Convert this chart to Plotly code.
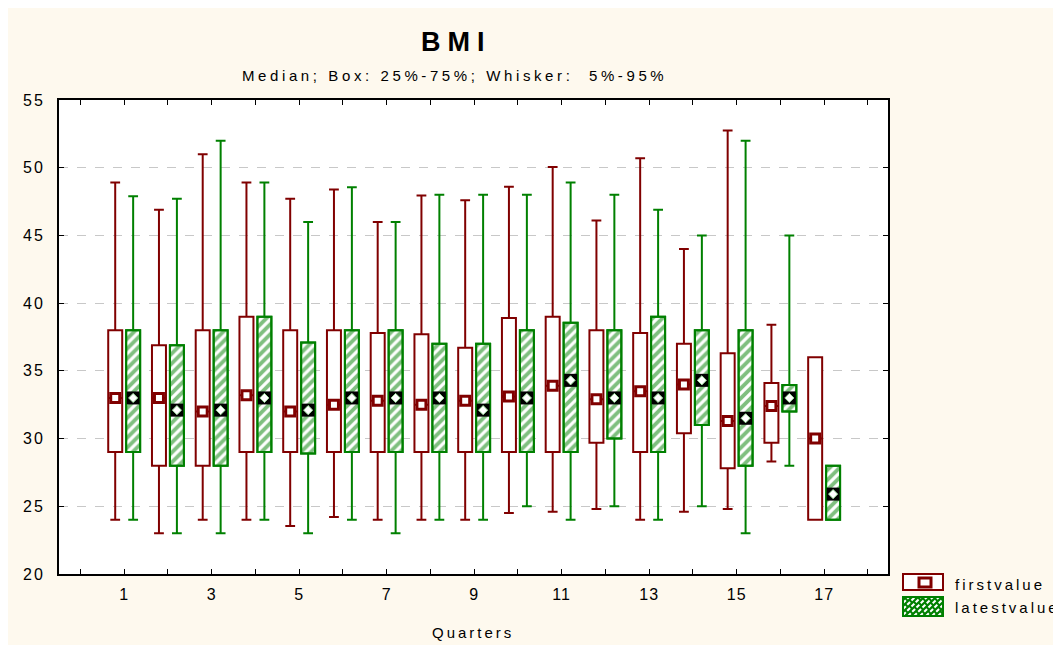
import plotly.graph_objects as go

quarters = list(range(1, 18))

# firstvalue statistics
first_p5 = [24, 23, 24, 24, 23.55, 24.2, 24, 24, 24, 24.5, 24.6, 24.8, 24, 24.6, 24.8, 28.3, 24]
first_q1 = [29, 28, 28, 29, 29, 29, 29, 29, 29, 29, 29, 29.7, 29, 30.4, 27.8, 29.7, 24]
first_med = [33, 33, 32, 33.2, 32, 32.5, 32.8, 32.5, 32.8, 33.1, 33.9, 32.9, 33.5, 34, 31.3, 32.4, 30]
first_q3 = [38, 36.9, 38, 39, 38, 38, 37.8, 37.7, 36.7, 38.9, 39, 38, 37.8, 37, 36.3, 34.1, 36]
first_p95 = [48.9, 46.9, 51, 48.9, 47.7, 48.4, 46, 47.95, 47.6, 48.6, 50.05, 46.1, 50.7, 44, 52.75, 38.4, 36]

# latestvalue statistics
latest_p5 = [24, 23, 23, 24, 23, 24, 23, 24, 24, 25, 24, 25, 24, 25, 23, 28, 24]
latest_q1 = [29, 28, 28, 29, 28.9, 29, 29, 29, 29, 29, 29, 30, 29, 31, 28, 32, 24]
latest_med = [33, 32.1, 32.1, 33, 32.1, 33, 33, 33, 32.1, 33, 34.3, 33, 33, 34.3, 31.5, 33, 25.9]
latest_q3 = [38, 36.9, 38, 39, 37.1, 38, 38, 37, 37, 38, 38.55, 38, 39, 38, 38, 33.95, 28]
latest_p95 = [47.9, 47.7, 52, 48.9, 46, 48.55, 46, 48, 48, 48, 48.9, 48, 46.9, 45, 52, 45, 28]

x_tickvals = list(range(0, 19))
x_ticklabels = [str(v) if v % 2 == 1 else "" for v in x_tickvals]
y_tickvals = [20, 25, 30, 35, 40, 45, 50, 55]
series_names = ["firstvalue", "latestvalue"]
title_text = "BMI"
subtitle_text = "Median; Box: 25%-75%; Whisker:  5%-95%"
x_title = "Quarters"

RED = "#800000"
GREEN = "#008000"
CREAM = "#FEF9EE"
FONT = "Liberation Sans, Arial, sans-serif"


def spaced(text, px):
    return '<span style="letter-spacing:%spx">%s</span>' % (px, text)


# page geometry (body has an 8px margin)
BODY = 8
W, H = 1061 - BODY, 645 - BODY
PL, PR, PT, PB = 59, 888, 100, 574  # plot area in page pixels


def xp(px):
    return (px - PL) / (PR - PL)


def yp(py):
    return (PB - py) / (PB - PT)


off = 0.205
iqr_latest = [q3 - q1 for q1, q3 in zip(latest_q1, latest_q3)]

fig = go.Figure()

fig.add_trace(go.Bar(
    x=quarters, y=iqr_latest, base=latest_q1,
    width=0.32, offset=off - 0.16,
    marker=dict(color="white", line=dict(color=GREEN, width=2),
                pattern=dict(shape="/", fgcolor=GREEN, bgcolor="white", size=7, solidity=0.55)),
    showlegend=False, hoverinfo="skip",
))
fig.add_trace(go.Box(
    x=quarters, q1=first_q1, median=first_med, q3=first_q3,
    lowerfence=first_p5, upperfence=first_p95, name=series_names[0],
    line=dict(color=RED, width=2), fillcolor="white",
    whiskerwidth=0.7, boxpoints=False, showlegend=False,
))
fig.add_trace(go.Box(
    x=quarters, q1=latest_q1, median=latest_med, q3=latest_q3,
    lowerfence=latest_p5, upperfence=latest_p95, name=series_names[1],
    line=dict(color=GREEN, width=2), fillcolor="rgba(0,0,0,0)",
    whiskerwidth=0.7, boxpoints=False, showlegend=False,
))
fig.add_trace(go.Scatter(
    x=[q - off for q in quarters], y=first_med, mode="markers",
    marker=dict(symbol="square", size=9, color="white", line=dict(color=RED, width=3)),
    showlegend=False, hoverinfo="skip",
))
fig.add_trace(go.Scatter(
    x=[q + off for q in quarters], y=latest_med, mode="markers",
    marker=dict(symbol="square", size=13, color="black", line=dict(width=0)),
    showlegend=False, hoverinfo="skip",
))
fig.add_trace(go.Scatter(
    x=[q + off for q in quarters], y=latest_med, mode="markers",
    marker=dict(symbol="diamond", size=7, color="white", line=dict(color="#9fdf9f", width=1)),
    showlegend=False, hoverinfo="skip",
))

# ---- custom legend (shapes + text) ----
shapes = []
rx0, rx1 = 903, 943
shapes.append(dict(type="rect", xref="paper", yref="paper",
                   x0=xp(rx0), x1=xp(rx1), y0=yp(590), y1=yp(574),
                   fillcolor="white", line=dict(color=RED, width=2)))
shapes.append(dict(type="rect", xref="paper", yref="paper",
                   x0=xp(919), x1=xp(931), y0=yp(587), y1=yp(578),
                   fillcolor="white", line=dict(color=RED, width=3)))
gy0, gy1 = 597, 616
shapes.append(dict(type="rect", xref="paper", yref="paper",
                   x0=xp(rx0), x1=xp(rx1), y0=yp(gy1), y1=yp(gy0),
                   fillcolor=GREEN, line=dict(color=GREEN, width=2)))
h = gy1 - gy0
segs = []
s = rx0 - h
while s < rx1:
    ax, ay, bx, by = s, gy1, s + h, gy0
    if ax < rx0:
        ay = gy1 - (rx0 - ax)
        ax = rx0
    if bx > rx1:
        by = gy0 + (bx - rx1)
        bx = rx1
    if bx > ax:
        segs.append("M %f %f L %f %f" % (xp(ax), yp(ay), xp(bx), yp(by)))
    s += 6
shapes.append(dict(type="path", xref="paper", yref="paper", path=" ".join(segs),
                   line=dict(color="white", width=2, dash="4px,2px")))
shapes.append(dict(type="rect", xref="paper", yref="paper",
                   x0=xp(rx0), x1=xp(rx1), y0=yp(gy1), y1=yp(gy0),
                   fillcolor="rgba(0,0,0,0)", line=dict(color=GREEN, width=2)))

annotations = [
    dict(text="<b>" + spaced(title_text, 7) + "</b>", x=xp(456), y=yp(42),
         xref="paper", yref="paper", xanchor="center", yanchor="middle",
         showarrow=False, font=dict(size=27, family=FONT)),
    dict(text=spaced(subtitle_text, 3.6), x=xp(454), y=yp(75),
         xref="paper", yref="paper", xanchor="center", yanchor="middle",
         showarrow=False, font=dict(size=15, family=FONT)),
    dict(text=spaced(x_title, 3), x=xp(473), y=yp(632),
         xref="paper", yref="paper", xanchor="center", yanchor="middle",
         showarrow=False, font=dict(size=15, family=FONT)),
    dict(text=spaced(series_names[0], 3), x=xp(953), y=yp(584),
         xref="paper", yref="paper", xanchor="left", yanchor="middle",
         showarrow=False, font=dict(size=15, family=FONT)),
    dict(text=spaced(series_names[1], 3), x=xp(953), y=yp(607),
         xref="paper", yref="paper", xanchor="left", yanchor="middle",
         showarrow=False, font=dict(size=15, family=FONT)),
]

fig.update_layout(
    width=W, height=H,
    margin=dict(l=PL - BODY, r=W - (PR - BODY), t=PT - BODY, b=H - (PB - BODY), autoexpand=False),
    paper_bgcolor=CREAM, plot_bgcolor="white",
    boxmode="group", boxgap=0.18, boxgroupgap=0.22,
    font=dict(family=FONT, size=14, color="black"),
    showlegend=False,
    annotations=annotations,
    shapes=shapes,
)

fig.update_xaxes(
    range=[-0.49, 18.46], tickvals=x_tickvals,
    ticktext=[spaced(t, 1) if t else "" for t in x_ticklabels],
    ticks="inside", ticklen=5, tickwidth=1, tickcolor="black",
    showline=True, linecolor="black", linewidth=2, mirror="allticks",
    showgrid=False, zeroline=False, ticklabelstandoff=5,
    tickfont=dict(size=16, family=FONT),
)
fig.update_yaxes(
    range=[20, 55], tickvals=y_tickvals,
    ticktext=[spaced(str(v), 2) for v in y_tickvals],
    ticks="inside", ticklen=5, tickwidth=1, tickcolor="black",
    showline=True, linecolor="black", linewidth=2, mirror="allticks",
    showgrid=True, gridcolor="#c8c8c8", griddash="dash", gridwidth=1,
    zeroline=False, ticklabelstandoff=9,
    tickfont=dict(size=16, family=FONT),
)

fig.write_html("out.html")
